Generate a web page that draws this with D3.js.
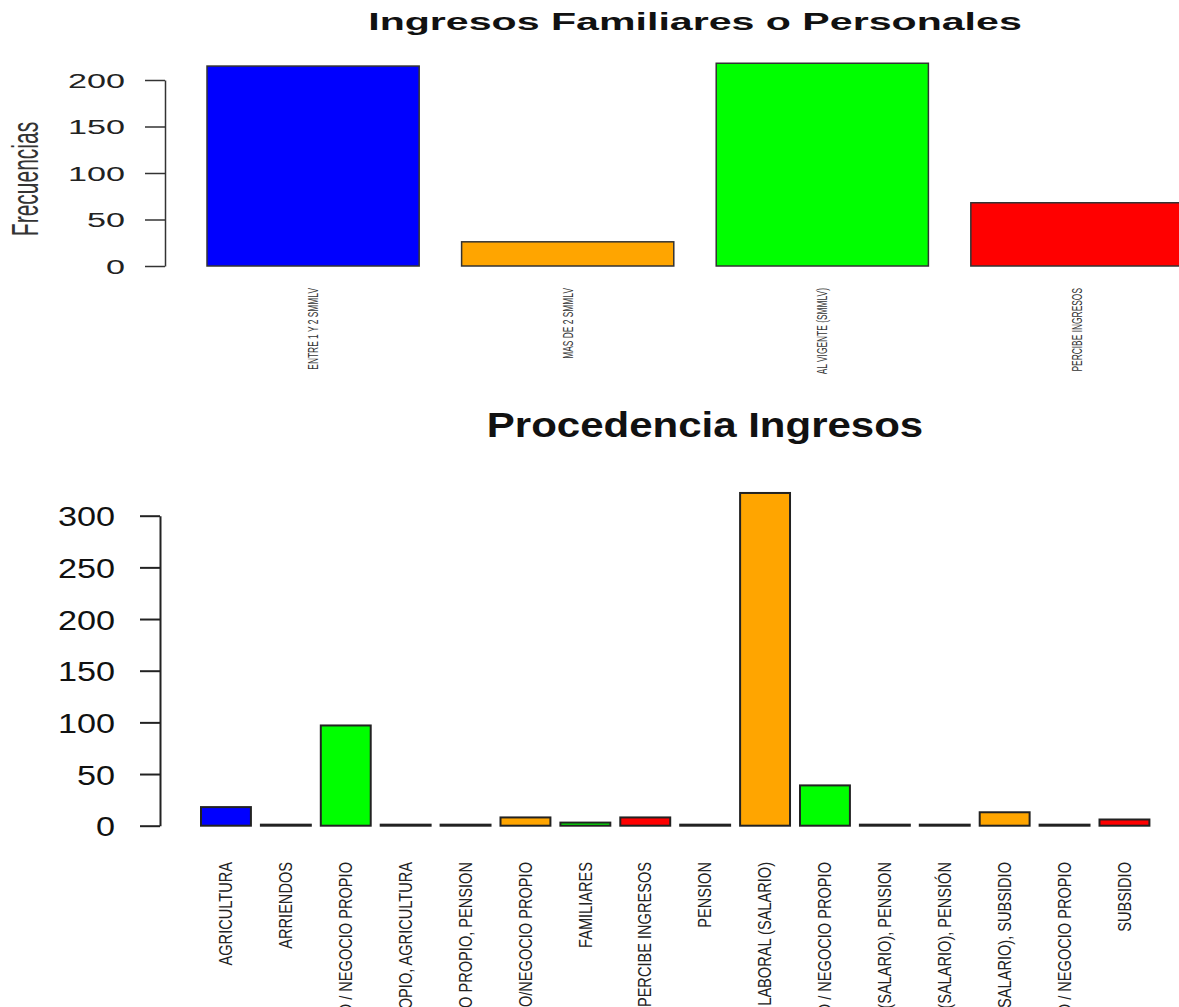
<!DOCTYPE html>
<html>
<head>
<meta charset="utf-8">
<script src="https://cdn.jsdelivr.net/npm/d3@7"></script>
<style>
  body { margin: 0; background: #fff; }
  text { font-family: "Liberation Sans", Arial, sans-serif; }
</style>
</head>
<body>
<script>
// data
var topCats = ["ENTRE 1 Y 2 SMMLV", "MAS DE 2 SMMLV", "MENOS DE 1 SALARIO MINIMO MENSUAL LEGAL VIGENTE (SMMLV)", "NO PERCIBE INGRESOS"]
var topVals = [215, 26, 218, 68]
var topTicks = [0, 50, 100, 150, 200]

var botCats = ["AGRICULTURA", "ARRIENDOS", "EMPRENDIMIENTO / NEGOCIO PROPIO",
  "EMPRENDIMIENTO / NEGOCIO PROPIO, AGRICULTURA", "EMPRENDIMIENTO / NEGOCIO PROPIO, PENSION",
  "EMPRENDIMIENTO/NEGOCIO PROPIO", "FAMILIARES", "NO PERCIBE INGRESOS", "PENSION",
  "RELACION LABORAL (SALARIO)", "RELACION LABORAL (SALARIO), EMPRENDIMIENTO / NEGOCIO PROPIO",
  "RELACION LABORAL (SALARIO), PENSION", "RELACION LABORAL (SALARIO), PENSIÓN",
  "RELACION LABORAL (SALARIO), SUBSIDIO", "SUBSIDIO, EMPRENDIMIENTO / NEGOCIO PROPIO", "SUBSIDIO"]
var botVals = [18, 1, 97, 1, 1, 8, 3, 8, 1, 322, 39, 1, 1, 13, 1, 6]
var botTicks = [0, 50, 100, 150, 200, 250, 300]

var palette = ["#0000FF", "#FFA500", "#00FF00", "#FF0000"]

var W = 1179, H = 1007

var svg = d3.select("body").append("svg")
  .attr("width", W).attr("height", H)

var defs = svg.append("defs")
defs.append("clipPath").attr("id", "topClip")
  .append("rect").attr("x", 0).attr("y", 0).attr("width", W).attr("height", 374)

// ---------- top chart ----------
var sxTop = 1.75
var topG = svg.append("g").attr("clip-path", "url(#topClip)")

var xTop = d3.scaleBand().domain(topCats).range([207, 1183])
  .paddingInner(1 / 6).paddingOuter(0)
var yTop = d3.scaleLinear().domain([0, 200]).range([266, 80])

topG.selectAll("rect.bar").data(topVals).enter().append("rect")
  .attr("class", "bar")
  .attr("x", (d, i) => xTop(topCats[i]))
  .attr("y", d => yTop(d))
  .attr("width", xTop.bandwidth())
  .attr("height", d => yTop(0) - yTop(d))
  .style("fill", (d, i) => palette[i % 4])
  .style("stroke", "#333")
  .style("stroke-width", 1.5)

var yAxisTop = d3.axisLeft(yTop).tickValues(topTicks).tickSize(20).tickSizeOuter(0).tickPadding(0)
var gyTop = topG.append("g").attr("transform", "translate(165,0)").call(yAxisTop)
gyTop.select(".domain").style("stroke", "#333").style("stroke-width", 1.5)
gyTop.selectAll(".tick line").style("stroke", "#333").style("stroke-width", 1.5)
gyTop.selectAll(".tick text")
  .attr("x", -40 / sxTop).attr("dy", "0.36em")
  .attr("transform", `scale(${sxTop},1)`)
  .style("font-size", "19.5px").style("fill", "#222")

topG.selectAll("text.cat").data(topCats).enter().append("text")
  .attr("class", "cat")
  .attr("transform", d => `translate(${xTop(d) + xTop.bandwidth() / 2},288) scale(${sxTop},1) rotate(-90)`)
  .attr("dy", "0.35em")
  .attr("text-anchor", "end")
  .style("font-size", "8.4px").style("fill", "#333")
  .text(d => d)

topG.append("text")
  .attr("transform", `translate(25,179) scale(${sxTop},1) rotate(-90)`)
  .attr("dy", "0.35em")
  .attr("text-anchor", "middle")
  .style("font-size", "21px").style("fill", "#333")
  .text("Frecuencias")

topG.append("text")
  .attr("transform", `translate(695,30) scale(${sxTop},1)`)
  .attr("text-anchor", "middle")
  .style("font-size", "23.5px").style("font-weight", "bold").style("fill", "#111")
  .text("Ingresos Familiares o Personales")

// ---------- bottom chart ----------
var sxBot = 1.2
var botG = svg.append("g")

var xBot = d3.scaleBand().domain(botCats).range([201, 201 + 59.9 * (16 - 1 / 6)])
  .paddingInner(1 / 6).paddingOuter(0)
var yBot = d3.scaleLinear().domain([0, 300]).range([825.7, 515.7])

botG.selectAll("rect.bar").data(botVals).enter().append("rect")
  .attr("class", "bar")
  .attr("x", (d, i) => xBot(botCats[i]))
  .attr("y", d => yBot(d))
  .attr("width", xBot.bandwidth())
  .attr("height", d => yBot(0) - yBot(d))
  .style("fill", (d, i) => palette[i % 4])
  .style("stroke", "#222")
  .style("stroke-width", 2)

var yAxisBot = d3.axisLeft(yBot).tickValues(botTicks).tickSize(20).tickSizeOuter(0).tickPadding(0)
var gyBot = botG.append("g").attr("transform", "translate(160,0)").call(yAxisBot)
gyBot.select(".domain").style("stroke", "#222").style("stroke-width", 2)
gyBot.selectAll(".tick line").style("stroke", "#222").style("stroke-width", 2)
gyBot.selectAll(".tick text")
  .attr("x", -45 / sxBot).attr("dy", "0.36em")
  .attr("transform", `scale(${sxBot},1)`)
  .style("font-size", "28.5px").style("fill", "#111")

botG.selectAll("text.cat").data(botCats).enter().append("text")
  .attr("class", "cat")
  .attr("transform", d => `translate(${xBot(d) + xBot.bandwidth() / 2},862) scale(${sxBot},1) rotate(-90)`)
  .attr("dy", "0.35em")
  .attr("text-anchor", "end")
  .style("font-size", "14.6px").style("fill", "#222")
  .text(d => d)

botG.append("text")
  .attr("transform", `translate(705,437) scale(${sxBot},1)`)
  .attr("text-anchor", "middle")
  .style("font-size", "35px").style("font-weight", "bold").style("fill", "#111")
  .text("Procedencia Ingresos")
</script>
</body>
</html>
